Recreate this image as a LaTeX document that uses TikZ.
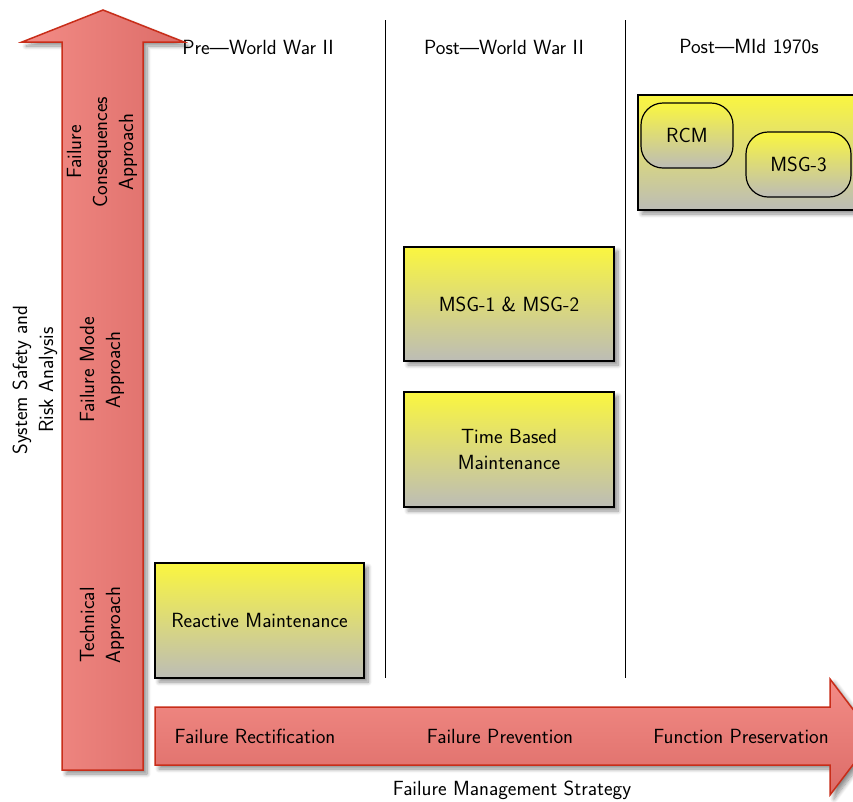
\documentclass[tikz,border=0pt]{standalone}
\usetikzlibrary{shadows.blur}
\renewcommand{\familydefault}{\sfdefault}

\definecolor{boxtop}{RGB}{250,246,64}
\definecolor{boxbot}{RGB}{188,188,182}
\definecolor{arrowlight}{RGB}{243,140,134}
\definecolor{arrowdark}{RGB}{220,108,104}
\definecolor{arrowedge}{RGB}{200,45,25}

\tikzset{
  label text/.style={font=\fontsize{20.5}{26}\selectfont, align=center, inner sep=0pt},
  soft shadow/.style={blur shadow={shadow xshift=4pt, shadow yshift=-4pt,
      shadow blur radius=4pt, shadow blur steps=8, shadow opacity=45}},
  stagebox/.style={draw=black, line width=1.5pt, top color=boxtop, bottom color=boxbot,
      soft shadow, label text},
  methodbox/.style={draw=black, line width=1.2pt, top color=boxtop, bottom color=boxbot,
      rounded corners=22pt, label text},
  bigarrow/.style={draw=arrowedge, line width=1.5pt, soft shadow},
  divider/.style={draw=black, line width=1pt},
}

\begin{document}
\begin{tikzpicture}[x=1pt, y=-1pt]
\path[use as bounding box, clip] (0,0) rectangle (853,801);

% period dividers
\coordinate (d1top) at (385,20);  \coordinate (d1bot) at (385,678);
\coordinate (d2top) at (625,20);  \coordinate (d2bot) at (625,678);
\draw[divider] (d1top) -- (d1bot);
\draw[divider] (d2top) -- (d2bot);

% period headings
\node[label text] (pre)  at (258,47) {Pre---World War II};
\node[label text] (post) at (504,47) {Post---World War II};
\node[label text] (mid)  at (749,47) {Post---MId 1970s};

% vertical arrow: analysis approach
\path[bigarrow, left color=arrowlight, right color=arrowdark]
  (62,770) -- (62,42) -- (22,42) -- (103,10) -- (184,42) -- (143,42) -- (143,770) -- cycle;

% horizontal arrow: failure management strategy
\path[bigarrow, top color=arrowlight, bottom color=arrowdark]
  (155,707) -- (830,707) -- (830,679) -- (874,737) -- (830,795) -- (830,765) -- (155,765) -- cycle;

% labels on the vertical arrow
\node[label text, rotate=90] (conseq) at (102,152) {Failure\\Consequences\\Approach};
\node[label text, rotate=90] (mode)   at (102,370) {Failure Mode\\Approach};
\node[label text, rotate=90] (tech)   at (102,625) {Technical\\Approach};
\node[label text, rotate=90] (safety) at (35,380)  {System Safety and\\Risk Analysis};

% labels on the horizontal arrow
\node[label text] (rect) at (255,736) {Failure Rectification};
\node[label text] (prev) at (500,736) {Failure Prevention};
\node[label text] (pres) at (741,736) {Function Preservation};
\node[label text] (fms)  at (512,790) {Failure Management Strategy};

% maintenance practices
\node[stagebox, minimum width=209pt, minimum height=115pt] (reactive) at (259.5,620.5) {Reactive Maintenance};
\node[stagebox, minimum width=210pt, minimum height=114pt] (msg12) at (509,304) {MSG-1 \& MSG-2};
\node[stagebox, minimum width=210pt, minimum height=115pt] (tbm) at (509,449.5) {Time Based\\Maintenance};
\node[stagebox, minimum width=232pt, minimum height=115pt] (modern) at (754,152.5) {};
\node[methodbox, minimum width=92pt, minimum height=65pt] (rcm) at (687,135.5) {RCM};
\node[methodbox, minimum width=105pt, minimum height=65pt] (msg3) at (798.5,164.5) {MSG-3};
\end{tikzpicture}
\end{document}
